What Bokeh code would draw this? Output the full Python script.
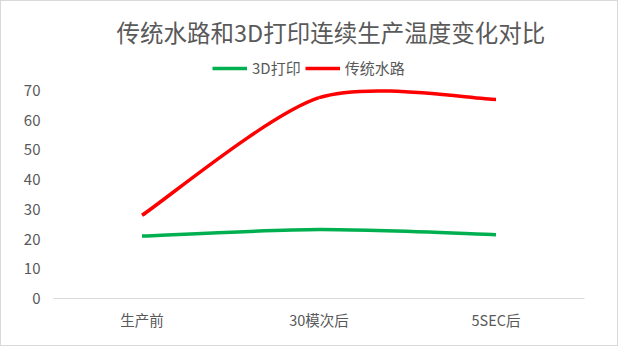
from bokeh.plotting import figure
from bokeh.models import Range1d, FixedTicker, Legend, LegendItem
from bokeh.embed import file_html
from bokeh.resources import INLINE

# ---- data ----
categories = ["生产前", "30模次后", "5SEC后"]
series_3d = [21.0, 23.2, 21.5]          # 3D打印
series_trad = [28.0, 67.6, 67.0]        # 传统水路
y_ticks = [0, 10, 20, 30, 40, 50, 60, 70]
title_text = "传统水路和3D打印连续生产温度变化对比"

FONT = "Noto Sans CJK SC"
TEXT = "#595959"
SMOOTH = 0.14  # smoothing tension for the bezier control points
Y_TOP = 80.8   # headroom above 70 to host the legend (no ticks there)


def bezier_segments(vals, f=SMOOTH):
    xs = list(range(len(vals)))
    pts = list(zip(xs, vals))
    n = len(pts)
    seg = dict(x0=[], y0=[], x1=[], y1=[], cx0=[], cy0=[], cx1=[], cy1=[])
    for i in range(n - 1):
        p_prev = pts[i - 1] if i > 0 else pts[i]
        p0 = pts[i]
        p1 = pts[i + 1]
        p_next = pts[i + 2] if i + 2 < n else pts[i + 1]
        seg["x0"].append(p0[0]); seg["y0"].append(p0[1])
        seg["x1"].append(p1[0]); seg["y1"].append(p1[1])
        seg["cx0"].append(p0[0] + (p1[0] - p_prev[0]) * f)
        seg["cy0"].append(p0[1] + (p1[1] - p_prev[1]) * f)
        seg["cx1"].append(p1[0] - (p_next[0] - p0[0]) * f)
        seg["cy1"].append(p1[1] - (p_next[1] - p0[1]) * f)
    return seg


p = figure(width=618, height=346,
           x_range=Range1d(-0.5, len(categories) - 0.5),
           y_range=Range1d(0, Y_TOP),
           output_backend="svg", toolbar_location=None,
           min_border_left=52, min_border_right=35,
           min_border_top=57, min_border_bottom=49)

p.styles = {"border": "1px solid #d9d9d9"}
p.outline_line_color = None
p.xgrid.grid_line_color = None
p.ygrid.grid_line_color = None

g = p.bezier(line_color="#00b050", line_width=3.5, **bezier_segments(series_3d))
r = p.bezier(line_color="#ff0000", line_width=3.5, **bezier_segments(series_trad))

# title
p.title.text = title_text
p.title.align = "left"
p.title.offset = 63
p.title.standoff = 20
p.title.text_font = FONT
p.title.text_font_size = "23.5px"
p.title.text_font_style = "normal"
p.title.text_color = TEXT

# axes
p.yaxis.ticker = FixedTicker(ticks=y_ticks)
p.yaxis.axis_line_color = None
p.yaxis.major_tick_line_color = None
p.yaxis.minor_tick_line_color = None
p.yaxis.major_label_text_font = FONT
p.yaxis.major_label_text_font_size = "15px"
p.yaxis.major_label_text_color = TEXT
p.yaxis.major_label_standoff = 7

p.xaxis.ticker = FixedTicker(ticks=list(range(len(categories))))
p.xaxis.major_label_overrides = {i: c for i, c in enumerate(categories)}
p.xaxis.axis_line_color = "#d9d9d9"
p.xaxis.axis_line_width = 1
p.xaxis.major_tick_line_color = None
p.xaxis.minor_tick_line_color = None
p.xaxis.major_label_text_font = FONT
p.xaxis.major_label_text_font_size = "14.5px"
p.xaxis.major_label_text_color = TEXT
p.xaxis.major_label_standoff = 4

legend = Legend(items=[LegendItem(label="3D打印", renderers=[g]),
                       LegendItem(label="传统水路", renderers=[r])],
                orientation="horizontal", location=(159, 220),
                glyph_width=35, glyph_height=18, label_height=18,
                label_standoff=5, spacing=4, padding=0, margin=0,
                label_text_font=FONT, label_text_font_size="15px",
                label_text_color=TEXT,
                background_fill_alpha=0, border_line_color=None)
p.add_layout(legend)

open("out.html", "w").write(file_html(p, INLINE))
